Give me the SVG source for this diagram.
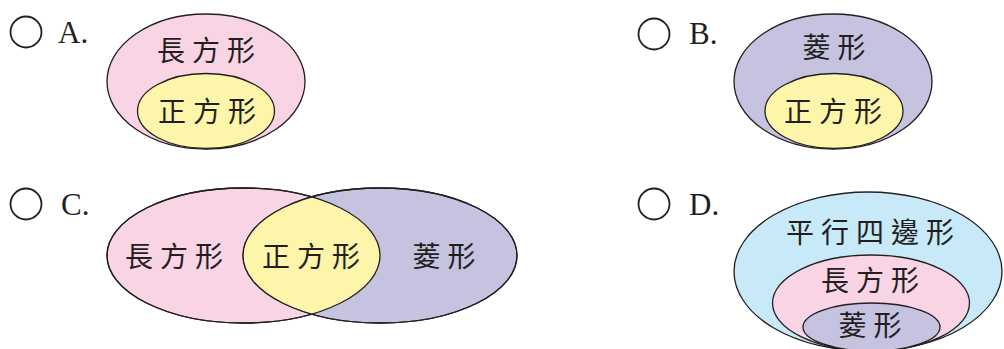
<svg xmlns="http://www.w3.org/2000/svg" width="1004" height="349" viewBox="0 0 1004 349">
<style>
.opt{fill:none;stroke:#231f20;stroke-width:1.8}
.lbl{font-family:"Liberation Serif","Times New Roman",serif;font-size:31px;fill:#231f20}
.cjk{font-family:"Noto Sans CJK TC","Noto Sans CJK SC",sans-serif;font-size:28px;fill:#231f20;letter-spacing:7px}
.e{stroke:#231f20;stroke-width:1.3}
.pink{fill:#f8d4e5}
.yel{fill:#fdf6aa}
.pur{fill:#c6c3e0}
.blue{fill:#c7e9f8}
</style>
<rect width="1004" height="349" fill="#ffffff"/>
<g id="optA">
<circle class="opt" cx="26" cy="32" r="15.5"/>
<text class="lbl" x="58" y="43">A.</text>
<ellipse class="e pink" cx="206" cy="81.5" rx="99" ry="67.5"/>
<ellipse class="e yel" cx="206" cy="111" rx="68.5" ry="37.5"/>
<text class="cjk" x="206" y="61" text-anchor="middle" dx="3.5">長方形</text>
<text class="cjk" x="207" y="122" text-anchor="middle" dx="3.5">正方形</text>
</g>
<g id="optB">
<circle class="opt" cx="654" cy="34" r="15.5"/>
<text class="lbl" x="689" y="44">B.</text>
<ellipse class="e pur" cx="833" cy="81.5" rx="99" ry="67.5"/>
<ellipse class="e yel" cx="834" cy="111" rx="69" ry="37.5"/>
<text class="cjk" x="834" y="58" text-anchor="middle" dx="3.5">菱形</text>
<text class="cjk" x="833" y="122" text-anchor="middle" dx="3.5">正方形</text>
</g>
<g id="optC">
<circle class="opt" cx="26" cy="204" r="15.5"/>
<text class="lbl" x="61" y="215">C.</text>
<ellipse class="e pink" cx="243.5" cy="255.5" rx="136.5" ry="67.5"/>
<ellipse class="e pur" cx="380" cy="255.5" rx="137" ry="67.5"/>
<clipPath id="clipL"><ellipse cx="243.5" cy="255.5" rx="136.5" ry="67.5"/></clipPath>
<ellipse class="yel" cx="380" cy="255.5" rx="137" ry="67.5" clip-path="url(#clipL)"/>
<ellipse cx="243.5" cy="255.5" rx="136.5" ry="67.5" fill="none" stroke="#231f20" stroke-width="1.3"/>
<ellipse cx="380" cy="255.5" rx="137" ry="67.5" fill="none" stroke="#231f20" stroke-width="1.3"/>
<text class="cjk" x="174" y="267" text-anchor="middle" dx="3.5">長方形</text>
<text class="cjk" x="311" y="267" text-anchor="middle" dx="3.5">正方形</text>
<text class="cjk" x="444" y="267" text-anchor="middle" dx="3.5">菱形</text>
</g>
<g id="optD">
<circle class="opt" cx="654" cy="204" r="15.5"/>
<text class="lbl" x="689" y="215">D.</text>
<ellipse class="e blue" cx="868" cy="271.5" rx="134" ry="79.5"/>
<ellipse class="e pink" cx="871" cy="303" rx="98.5" ry="48"/>
<ellipse class="e pur" cx="871.5" cy="327" rx="68.5" ry="24"/>
<text class="cjk" x="870" y="243" text-anchor="middle" dx="3.5">平行四邊形</text>
<text class="cjk" x="870" y="291" text-anchor="middle" dx="3.5">長方形</text>
<text class="cjk" x="870" y="336" text-anchor="middle" dx="3.5">菱形</text>
</g>
</svg>
